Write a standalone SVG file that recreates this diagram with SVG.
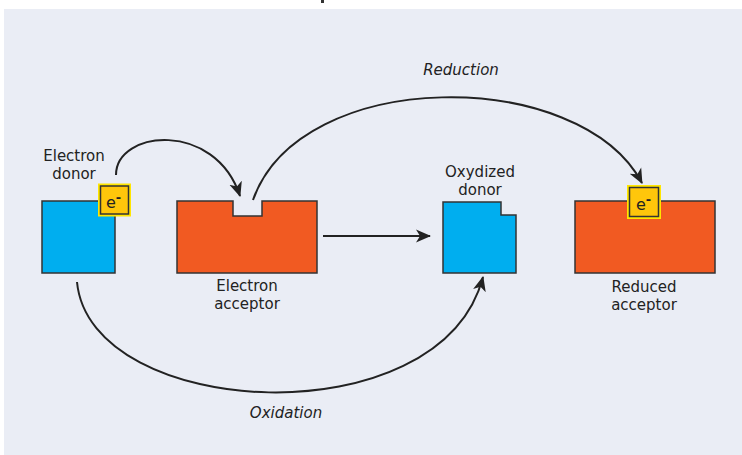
<svg xmlns="http://www.w3.org/2000/svg" width="742" height="455" viewBox="0 0 742 455">
<defs>
<style>
.lbl{font-family:"DejaVu Sans",Verdana,sans-serif;font-size:15px;fill:#222;text-anchor:middle}
.it{font-style:italic}
.blue{fill:#00AEEF;stroke:#333;stroke-width:1.5}
.orange{fill:#F15A22;stroke:#333;stroke-width:1.5}
.conn{fill:none;stroke:#222;stroke-width:2}
.eout{fill:#FFE600}
.ein{fill:#FFC60B;stroke:#333;stroke-width:1.5}
.etx{font-family:"DejaVu Sans",Verdana,sans-serif;font-size:16px;fill:#222}
</style>
<marker id="ah" markerUnits="userSpaceOnUse" markerWidth="17" markerHeight="15" refX="14" refY="7.5" orient="auto">
<path d="M0,1 L15,7.5 L0,14 L4,7.5 Z" fill="#222"/>
</marker>
</defs>
<rect x="0" y="0" width="742" height="455" fill="#fff"/>
<rect x="4" y="9" width="738" height="446" fill="#EAEDF5"/>
<rect x="321" y="0" width="3" height="3" fill="#333"/>

<g id="connectors">
<path class="conn" d="M116,175 C116,130 215,120 240,196" marker-end="url(#ah)"/>
<path class="conn" d="M253,200 C300,66 580,66 642,183" marker-end="url(#ah)"/>
<path class="conn" d="M323,236 L430,236" marker-end="url(#ah)"/>
<path class="conn" d="M77,282 C90,420 440,440 483,277" marker-end="url(#ah)"/>
<text class="lbl it" x="461" y="75">Reduction</text>
<text class="lbl it" x="286" y="418">Oxidation</text>
</g>

<g id="electron-donor">
<rect class="blue" x="42" y="201" width="73" height="72"/>
<text class="lbl" x="74" y="161">Electron</text>
<text class="lbl" x="74" y="179">donor</text>
<rect class="eout" x="98" y="183.5" width="33" height="33"/>
<rect class="ein" x="100.5" y="186" width="28" height="28"/>
<text class="etx" x="106" y="208">e<tspan dy="-6" font-size="13" font-weight="bold">-</tspan></text>
</g>

<g id="electron-acceptor">
<path class="orange" d="M177,201 H233 V216 H262 V201 H317 V273 H177 Z"/>
<text class="lbl" x="247" y="291">Electron</text>
<text class="lbl" x="247" y="309">acceptor</text>
</g>

<g id="oxydized-donor">
<path class="blue" d="M443,202 H501 V215 H516 V273 H443 Z"/>
<text class="lbl" x="480" y="177">Oxydized</text>
<text class="lbl" x="480" y="195">donor</text>
</g>

<g id="reduced-acceptor">
<rect class="orange" x="575" y="201" width="140" height="72"/>
<rect class="eout" x="627" y="185" width="34" height="34"/>
<rect class="ein" x="629.5" y="187.5" width="29" height="29"/>
<text class="etx" x="636" y="210">e<tspan dy="-6" font-size="13" font-weight="bold">-</tspan></text>
<text class="lbl" x="644" y="292">Reduced</text>
<text class="lbl" x="644" y="310">acceptor</text>
</g>
</svg>
